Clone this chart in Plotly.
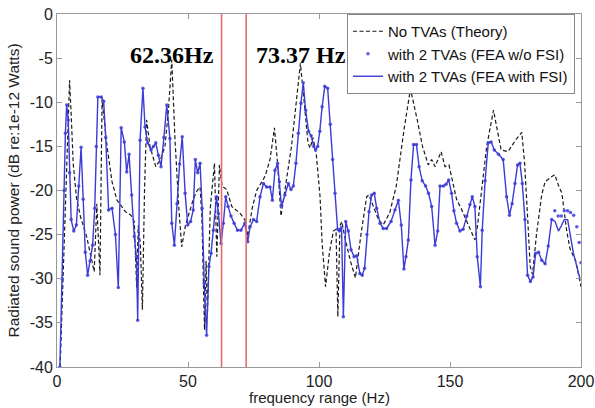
import plotly.graph_objects as go

# ---- data ----
theory_x = [1.2, 2.5, 3.5, 4.0, 4.8, 5.5, 6.2, 7.5, 9.0, 11.3, 12.7, 14.2, 15.2, 16.4, 17.2, 19.1, 21.0, 22.9,
            26.1, 28.2, 29.5, 30.4, 31.0, 31.8, 32.6, 33.4, 34.2, 35.5, 37.7, 39.5, 41.2, 42.5, 43.8, 45.0,
            46.5, 47.6, 49.0, 50.5, 52.0, 53.5, 54.6, 55.3, 56.3, 56.9, 57.4, 58.5, 60.1, 61.0, 62.0, 63.0,
            64.8, 66.7, 69.9, 71.7, 72.8, 74.5, 76.2, 79.4, 81.3, 83.0, 84.2, 85.5, 87.0, 89.5, 91.5, 92.9,
            94.2, 95.8, 96.6, 97.7, 99.0, 100.4, 101.2, 102.5, 104.0, 105.5, 106.5, 107.2, 108.0, 108.7,
            110.0, 112.0, 113.9, 116.0, 118.2, 119.1, 121.0, 122.7, 124.5, 127.0, 129.5, 131.0, 132.5,
            134.9, 136.5, 137.5, 139.5, 141.7, 143.0, 144.3, 146.6, 148.1, 149.6, 151.0, 152.5, 154.5,
            157.0, 159.5, 160.5, 162.0, 164.0, 166.6, 168.0, 169.5, 172.1, 175.0, 177.4, 178.5, 179.8,
            180.6, 181.5, 183.0, 185.0, 186.3, 188.5, 190.0, 191.5, 192.7, 194.5, 195.8, 198.0, 200.0]
theory_y = [-40, -28, -17, -12.5, -7.5, -12, -17, -21, -23, -25.2, -27.1, -29.2, -21.5, -29.6, -9.7, -15.0, -19.0, -21.1,
            -22.4, -22.8, -23.5, -31, -24, -26, -33.5, -20, -12.0, -15.0, -17.3, -16.5, -15.0, -11.0, -5.2, -14,
            -22, -26.4, -24, -22.5, -21, -20, -19.6, -23, -35.8, -28, -34, -22, -16.9, -27.5, -17.1, -19.5,
            -19.9, -21.8, -22.6, -23.3, -25.2, -22, -20.0, -18.4, -16.5, -12.9, -17, -22.9, -19.9, -15, -9.5, -5.6,
            -9.5, -14.6, -15.2, -14.0, -16.0, -20.7, -26, -30.9, -27, -24.6, -24.4, -34.3, -24, -23.5,
            -25.5, -28, -29.9, -25, -20.7, -20.5, -22, -23.3, -23.9, -22.5, -19.5, -16, -13.0,
            -8.5, -10.5, -12.0, -15.0, -17.1, -16.5, -17.3, -15.6, -17.3, -17.1, -19, -21, -22.2,
            -24, -25.6, -24, -20, -15, -10.9, -13, -15.4, -15.6, -14.3, -13.4, -17, -24,
            -28.6, -29.5, -25, -20.5, -19.0, -18.5, -18.2, -19.5, -20.3, -24.5, -26.6, -28, -30.9]

fsi_x = [1.1, 2.0, 2.7, 3.2, 3.7, 4.3, 4.8, 5.4, 6.4, 7.4, 8.3, 9.2, 10.0, 10.8, 11.7, 12.6, 13.6, 14.4, 15.0,
         15.6, 16.9, 17.8, 18.6, 19.7, 21.0, 22.3, 23.4, 24.5, 25.7, 26.6, 27.5, 28.5, 29.5, 30.3, 30.8,
         31.7, 32.8, 33.6, 34.6, 35.9, 36.8, 37.7, 38.7, 39.7, 40.8, 41.9, 43.1, 43.8, 44.8, 45.8, 46.8,
         47.8, 48.9, 49.9, 51.0, 52.0, 52.8, 53.7, 54.6, 55.4, 56.2, 57.1, 58.0, 58.8, 59.7, 60.9, 61.6,
         62.6, 63.5, 64.4, 65.3, 66.4, 67.6, 68.9, 70.2, 71.7, 72.8, 73.7, 75.0, 76.2, 77.5, 78.8, 80.0,
         81.3, 82.2, 83.2, 84.2, 84.9, 85.7, 87.0, 88.3, 89.3, 90.2, 91.2, 92.1, 93.1, 94.0, 94.9, 96.0,
         97.0, 98.0, 98.7, 99.5, 100.3, 101.2, 102.2, 103.3, 104.3, 105.2, 106.1, 107.1, 107.8, 108.6,
         109.3, 110.2, 111.2, 112.2, 113.4, 114.4, 115.6, 116.5, 117.4, 118.3, 119.1, 120.1, 121.1, 122.0,
         123.3, 124.5, 125.8, 127.5, 129.0, 130.3, 131.4, 132.4, 133.2, 134.1, 135.1, 136.1, 137.2, 138.2,
         139.4, 140.7, 141.8, 143.0, 144.3, 145.3, 146.2, 147.5, 148.5, 149.5, 150.6, 151.5, 152.5, 153.8,
         155.0, 156.4, 157.6, 158.5, 159.5, 160.4, 161.6, 162.3, 163.4, 164.6, 165.7, 166.9, 168.5, 170.3,
         171.6, 172.7, 173.7, 174.8, 175.8, 176.7, 177.6, 178.6, 179.6, 180.7, 181.7, 182.7, 183.8, 185.0,
         186.3, 187.5, 188.8, 190.1, 191.4, 192.5, 193.6, 194.9, 196.0, 197.1, 198.4, 199.7]
fsi_y = [-40, -30, -20, -13.5, -10.3, -12, -18, -23.3, -24.6, -23.9, -19.5, -15.1, -21, -27.0, -29.6, -28, -26.2, -22, -15,
         -9.4, -9.4, -9.9, -14, -22.2, -22.0, -25, -31.0, -12.9, -14.5, -17.9, -15.9, -20.5, -25.2, -27.5, -34.7,
         -14.3, -8.4, -12.8, -14.6, -15.4, -15.0, -14.6, -16.0, -17.3, -14.0, -10.3, -14.1, -23.7, -26.2, -21.5, -17.0,
         -13.9, -20.3, -23.9, -23.5, -22.2, -16.5, -18.0, -16.9, -22, -30.5, -36.4, -28.6, -27.1, -24.5, -20.7, -22.6,
         -26.0, -23.7, -20.7, -21.8, -22.9, -23.7, -24.5, -24.5, -23.7, -25.8, -24.1, -23.3, -23.5, -20.7, -19.2, -19.6,
         -19.6, -21.1, -17.7, -16.9, -19.0, -21.8, -20.5, -19.2, -19.9, -19.5, -16.9, -13.5, -10.1, -7.8, -10.9, -13.3,
         -13.8, -15.0, -15.4, -15.0, -13.3, -10.5, -8.2, -8.4, -12.5, -16.5, -20.3, -24.4, -24.6, -24.2,
         -34.3, -23.5, -24.6, -26.7, -27.5, -27.4, -29.4, -29.6, -28.8, -25, -22.4, -20.5, -20.3, -22.0,
         -23.7, -24.3, -24.3, -23.5, -22.2, -21.1, -23.9, -28.9, -27.5, -25.6, -18.8, -14.8, -14.8, -17.3,
         -18.9, -19.5, -20.3, -21.8, -26.2, -24.6, -19.5, -19.5, -19.3, -18.8, -20.3, -22.3, -23.7, -24.6,
         -24.4, -22.9, -21.6, -20.7, -21.8, -27.5, -30.9, -24.5, -18.9, -14.6, -14.5, -15.4, -15.9, -16.5,
         -20.7, -22.8, -21.5, -19.2, -17.1, -16.9, -19.2, -23.3, -29.6, -30.3, -29.8, -27.1, -27.0, -27.9,
         -28.3, -26.3, -23.3, -23.5, -24.6, -24.0, -23.3, -23.3, -25.0, -27.1, -28.6, -30.1]

# w/o FSI markers: identical to the FSI points up to 188.8 Hz, then separate tail values
wo_tail_x = [190.0, 191.3, 192.5, 193.6, 194.9, 196.0, 197.2, 198.4, 199.3, 200.0]
wo_tail_y = [-22.3, -22.9, -22.9, -22.3, -22.3, -22.5, -22.8, -24.1, -25.9, -28.2]
n_shared = fsi_x.index(188.8) + 1
wo_fsi_x = fsi_x[:n_shared] + wo_tail_x
wo_fsi_y = fsi_y[:n_shared] + wo_tail_y

# red marker lines (positions as drawn in the picture) and their labels
mark_line_x = [62.8, 72.2]
mark_labels = ["62.36Hz", "73.37 Hz"]
mark_label_x = [60.6, 75.3]
mark_label_y = -4.64

x_ticks = [0, 50, 100, 150, 200]
y_ticks = [0, -5, -10, -15, -20, -25, -30, -35, -40]

BLUE = "#3b3bd6"
FONT = "Liberation Sans"

fig = go.Figure()
fig.add_trace(go.Scatter(x=theory_x, y=theory_y, mode="lines", name="No TVAs (Theory)",
                         line=dict(color="#1a1a1a", width=1.2, dash="4px,2.5px")))
fig.add_trace(go.Scatter(x=wo_fsi_x, y=wo_fsi_y, mode="markers", name="with 2 TVAs (FEA w/o FSI)",
                         marker=dict(color="#5a5ae0", size=3.5)))
fig.add_trace(go.Scatter(x=fsi_x, y=fsi_y, mode="lines", name="with 2 TVAs (FEA with FSI)",
                         line=dict(color=BLUE, width=1.4)))

for f in mark_line_x:
    fig.add_shape(type="line", x0=f, x1=f, y0=-40, y1=0, xref="x", yref="y",
                  line=dict(color="#e86a6a", width=1.6))

fig.add_annotation(x=mark_label_x[0], y=mark_label_y, text="<b>" + mark_labels[0] + "</b>", showarrow=False,
                   xanchor="right", yanchor="middle",
                   font=dict(family="Liberation Serif", size=24, color="black"))
fig.add_annotation(x=mark_label_x[1], y=mark_label_y, text="<b>" + mark_labels[1] + "</b>", showarrow=False,
                   xanchor="left", yanchor="middle",
                   font=dict(family="Liberation Serif", size=24, color="black"))

# x-axis title as an annotation for precise placement
fig.add_annotation(x=0.5, y=-0.085, xref="paper", yref="paper", text="frequency range (Hz)",
                   showarrow=False, xanchor="center", yanchor="middle",
                   font=dict(family=FONT, size=15, color="#222"))

axis_common = dict(showline=True, linecolor="#999999", linewidth=1, mirror="allticks",
                   ticks="inside", ticklen=5, tickcolor="#999999", showgrid=False, zeroline=False,
                   automargin=False, ticklabeloverflow="allow",
                   tickfont=dict(family=FONT, size=16, color="#222"))

fig.update_xaxes(range=[0, 200], tickvals=x_ticks, ticktext=[str(v) for v in x_ticks], **axis_common)
fig.update_yaxes(range=[-40, 0], tickvals=y_ticks, ticktext=[str(v) for v in y_ticks],
                 title=dict(text="Radiated sound power (dB re:1e-12 Watts)",
                            font=dict(family=FONT, size=15.5, color="#222"), standoff=6),
                 **axis_common)

fig.update_layout(
    width=595, height=408,
    margin=dict(l=57, r=14, t=14, b=41),
    paper_bgcolor="white", plot_bgcolor="white",
    showlegend=True,
    legend=dict(x=0.9885, y=1.0, xanchor="right", yanchor="top",
                bgcolor="white", bordercolor="#888888", borderwidth=1,
                font=dict(family=FONT, size=15, color="#111"),
                itemwidth=30, tracegroupgap=0),
)

# remove the browser's default 8px body margin so the figure fills the window exactly
fig.write_html("out.html", config={"displayModeBar": False},
               post_script="document.body.style.margin='0';")
